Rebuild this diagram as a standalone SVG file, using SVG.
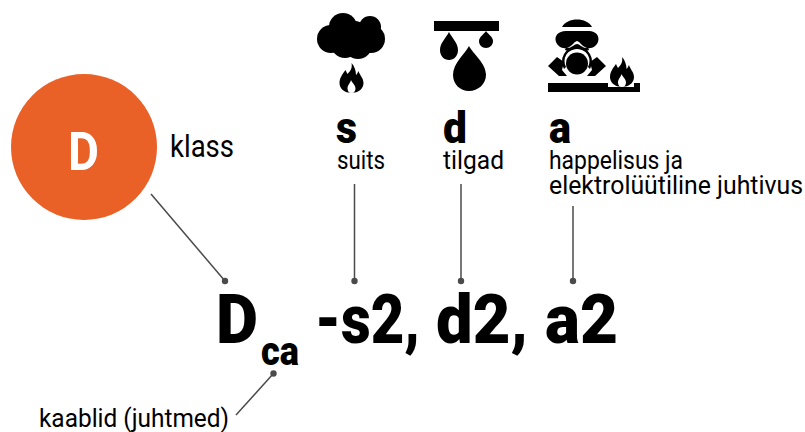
<svg xmlns="http://www.w3.org/2000/svg" width="805" height="432" viewBox="0 0 805 432">
<style>
text{font-family:Roboto,"Noto Sans","Liberation Sans",sans-serif;fill:#000}
.big{font-weight:900;font-size:68px}
.l{font-size:25px;font-weight:400}
.h{font-size:44px;font-weight:900}
.c line{stroke:#4a4a4a;stroke-width:1.5}
.c circle{fill:#4a4a4a}
</style>
<defs>
<g id="flame">
<path d="M12 0C13 5 11 8 8 11C7 9 6.500 8 6 7C3 11 0 15 0 20C0 25 4 29 9 29.500L15 29.500C20 29 24 25 24 20C24 15 20 12 19 8C18 10 17.500 11 16.500 12C16.500 8 15 3 12 0Z"/>
<path d="M11.500 17C12.500 20 16 22 16 25.500C16 28 14.500 30 12 30C9.500 30 8 28 8 25.500C8 22 11 20 11.500 17Z" fill="#fff"/>
</g>
</defs>
<g id="connectors" class="c">
<line x1="151" y1="194" x2="225" y2="281"/><circle cx="225" cy="281" r="3.200"/>
<line x1="354.500" y1="184" x2="354.500" y2="281"/><circle cx="354.500" cy="281" r="3.200"/>
<line x1="461" y1="184" x2="461" y2="281"/><circle cx="461" cy="281" r="3.200"/>
<line x1="573" y1="206" x2="573" y2="281"/><circle cx="573" cy="281" r="3.200"/>
<line x1="236" y1="415" x2="273" y2="374"/><circle cx="273.500" cy="373.500" r="3.200"/>
</g>
<g id="class-d">
<circle cx="84" cy="147" r="73" fill="#ea6127"/>
<text x="68" y="170" font-size="53" font-weight="700" style="fill:#fff" textLength="31" lengthAdjust="spacingAndGlyphs">D</text>
<text x="170" y="157" font-size="31" font-weight="400" textLength="64" lengthAdjust="spacingAndGlyphs">klass</text>
</g>
<g id="smoke">
<g>
<circle cx="343" cy="27" r="14"/><circle cx="370" cy="27" r="11"/><circle cx="331" cy="39" r="14"/><circle cx="371" cy="39" r="14"/><circle cx="345" cy="44" r="14"/><circle cx="358" cy="45" r="14"/><circle cx="355" cy="33" r="12"/>
</g>
<use href="#flame" x="339.500" y="63"/>
<text class="h" x="336" y="143" textLength="21" lengthAdjust="spacingAndGlyphs">s</text>
<text class="l" x="337" y="169" textLength="48" lengthAdjust="spacingAndGlyphs">suits</text>
</g>
<g id="drops">
<rect x="434" y="21" width="65" height="10"/>
<path d="M449 32C452 38 458 43 458 50C458 56 454 60 449 60C444 60 440 56 440 50C440 43 446 38 449 32Z"/>
<path d="M486 31C488 34 493 37 493 41C493 45 490 48 486 48C482 48 479 45 479 41C479 37 484 34 486 31Z"/>
<path d="M469 46C473 54 486 63 486 75C486 84 478 91 469 91C460 91 453 84 453 75C453 63 465 54 469 46Z"/>
<text class="h" x="443" y="143" textLength="24" lengthAdjust="spacingAndGlyphs">d</text>
<text class="l" x="443" y="169" textLength="61" lengthAdjust="spacingAndGlyphs">tilgad</text>
</g>
<g id="acid">
<path d="M562 27C567 17 587 17 592 27Z"/>
<path d="M566 31H589C596 31 600 36 598 42C596 47 590 50 585 47C581 45 579 41 577 41C575 41 573 45 569 47C564 50 558 47 556 42C554 36 558 31 566 31Z"/>
<path d="M564 69A15 15 0 1 1 590 69L588 67A12.500 12.500 0 1 0 566 67Z"/>
<path d="M566 47C570 50 574 44 577 44C580 44 584 50 588 47L589 50L585 51.500C580 48 574 48 569 51.500L565 50Z"/>
<circle cx="577" cy="63.500" r="11"/>
<path d="M557 57L564 62L562 70L567 76L559 76L548 66Z"/>
<path d="M597 57L590 62L592 70L587 76L595 76L606 66Z"/>
<rect x="548" y="83" width="92" height="9"/>
<rect x="608" y="83" width="26" height="4" fill="#fff"/>
<use href="#flame" x="610" y="57"/>
<text class="h" x="549" y="143" textLength="22" lengthAdjust="spacingAndGlyphs">a</text>
<text class="l" x="549" y="169" textLength="134" lengthAdjust="spacingAndGlyphs">happelisus ja</text>
<text class="l" x="549" y="194" textLength="254" lengthAdjust="spacingAndGlyphs">elektrolüütiline juhtivus</text>
</g>
<g id="code">
<text class="big" x="216" y="343" textLength="42" lengthAdjust="spacingAndGlyphs">D</text>
<text class="big" x="261" y="365" style="font-size:40px" textLength="38" lengthAdjust="spacingAndGlyphs">ca</text>
<text class="big" x="315" y="343" textLength="105" lengthAdjust="spacingAndGlyphs">-s2,</text>
<text class="big" x="436" y="343" textLength="92" lengthAdjust="spacingAndGlyphs">d2,</text>
<text class="big" x="545" y="343" textLength="73" lengthAdjust="spacingAndGlyphs">a2</text>
</g>
<g id="cables">
<text x="39" y="427" class="l" textLength="190" lengthAdjust="spacingAndGlyphs">kaablid (juhtmed)</text>
</g>
</svg>
